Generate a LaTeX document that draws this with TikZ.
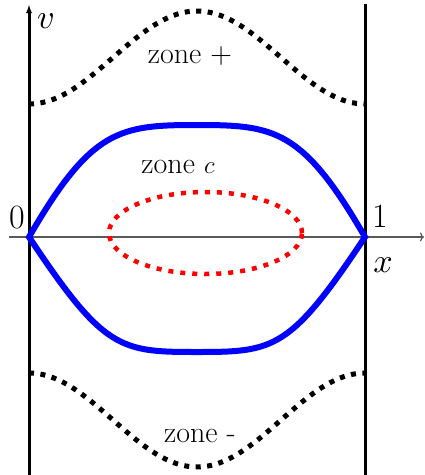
\documentclass[tikz,border=0pt]{standalone}
\usetikzlibrary{arrows.meta}
\begin{document}
\begin{tikzpicture}[x=1pt,y=-1pt,
  wall/.style={line width=3pt,black},
  border/.style={line width=5pt,black,dash pattern=on 5pt off 6.5pt},
  orbit/.style={line width=6pt,blue,line join=miter},
  inner/.style={line width=4.5pt,red,dash pattern=on 5pt off 7pt},
  lbl/.style={font=\fontsize{34}{40}\selectfont,anchor=base,inner sep=0pt},
  mlbl/.style={scale=3.4,anchor=base,inner sep=0pt},
  zonelbl/.style={font=\fontsize{30}{36}\selectfont,anchor=base,inner sep=0pt}]
\useasboundingbox (0,0) rectangle (425,475);
\coordinate (O) at (29,237);
\coordinate (I) at (365,237);
\coordinate (T) at (197,125);
\coordinate (B) at (197,352);
\coordinate (xs) at (9,237);
\coordinate (xe) at (424,237);
\coordinate (vb) at (29,476);
\coordinate (vt) at (29,4);
\coordinate (rb) at (365,476);
\coordinate (rt) at (365,4);
\draw[gray!70!black, line width=1.2pt, -{To[length=4pt,width=9pt]}] (xs) -- (xe);
\draw[wall,-{Latex[length=9pt,width=6pt]}] (vb) -- (vt);
\draw[wall] (rb) -- (rt);
% zone boundaries
\draw[border] plot[domain=0:1,samples=80] ({29+336*\x},{57.5+46.5*cos(360*\x)});
\draw[border] plot[domain=0:1,samples=80] ({29+336*\x},{420-47*cos(360*\x)});
% blue curve
\draw[orbit] (O) .. controls (91.5,128.75) and (120,125) .. (T)
  .. controls (274,125) and (302.5,128.75) .. (I)
  .. controls (290,350) and (274,352) .. (B)
  .. controls (120,352) and (104,350) .. (O) -- cycle;
% red ellipse
\draw[inner] (205.5,233) ellipse [x radius=96.5pt, y radius=41pt];
% labels
\node[lbl] (zero) at (17,228) {0};
\node[lbl] (one) at (380,227) {1};
\node[mlbl] (xl) at (383,272) {$x$};
\node[mlbl] (vl) at (46,28) {$v$};
\node[zonelbl] (zp) at (190,63) {zone +};
\node[zonelbl] (zc) at (178,173) {zone $c$};
\node[zonelbl] (zm) at (200,442) {zone -};
\end{tikzpicture}
\end{document}
